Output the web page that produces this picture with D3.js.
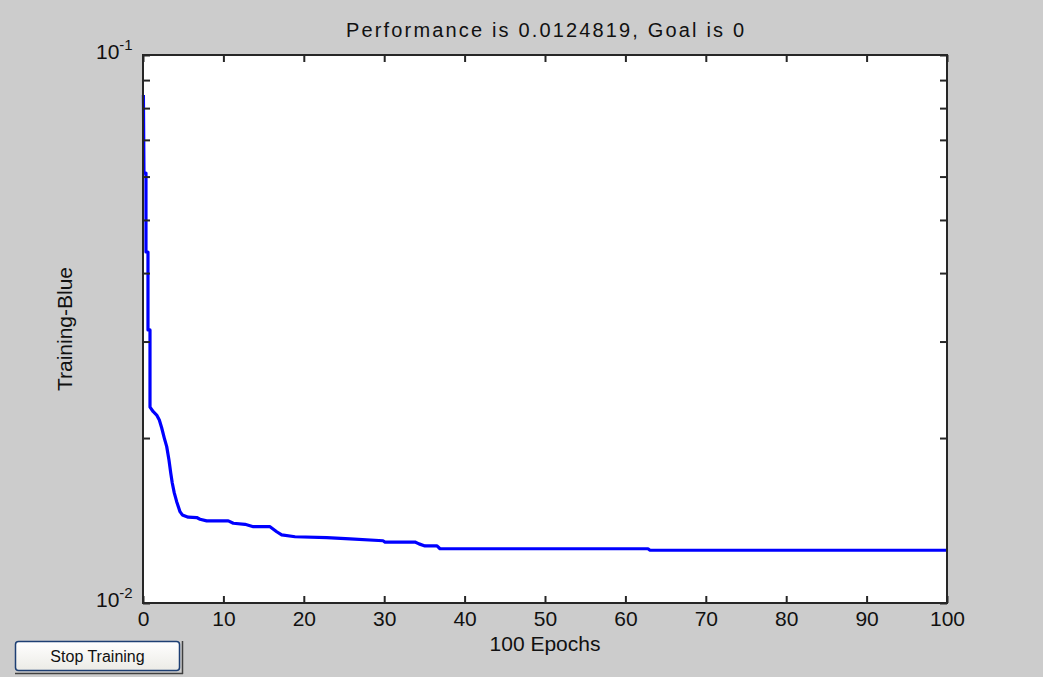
<!DOCTYPE html>
<html>
<head>
<meta charset="utf-8">
<script src="https://cdn.jsdelivr.net/npm/d3@7"></script>
<style>
  html, body { margin: 0; padding: 0; background: #cccccc; }
  svg { display: block; }
  text { font-family: "Liberation Sans", Arial, Helvetica, sans-serif; fill: #111; }
</style>
</head>
<body>
<svg id="chart" width="1043" height="677"></svg>
<script>
// Training performance per epoch (mean squared error)
const epochs = [0.05, 0.12, 0.37, 0.37, 0.62, 0.62, 0.87, 0.87, 1.28, 1.70, 2.03, 2.33, 2.65, 2.95, 3.23, 3.45, 3.64, 3.89, 4.19, 4.60, 4.89, 5.63, 6.68, 7.09, 7.92, 10.61, 11.23, 12.69, 13.72, 15.80, 16.63, 17.25, 18.91, 22.85, 25.75, 29.85, 30.10, 33.83, 34.33, 35.07, 36.57, 36.94, 62.81, 63.06, 100];
const performance = [0.0845, 0.0609, 0.0609, 0.0437, 0.0437, 0.0315, 0.0315, 0.02278, 0.02234, 0.02203, 0.02157, 0.02086, 0.02000, 0.01929, 0.01823, 0.01727, 0.01656, 0.01588, 0.01531, 0.01468, 0.01448, 0.01434, 0.01432, 0.01422, 0.01412, 0.01412, 0.01398, 0.01392, 0.01378, 0.01378, 0.01349, 0.01331, 0.01321, 0.01316, 0.01309, 0.01299, 0.01292, 0.01292, 0.01282, 0.01271, 0.01271, 0.01256, 0.01256, 0.0124819, 0.0124819];

const xTicks = [0, 10, 20, 30, 40, 50, 60, 70, 80, 90, 100];
const yTicks = [0.01, 0.02, 0.03, 0.04, 0.05, 0.06, 0.07, 0.08, 0.09, 0.1];
const yLabelTicks = [0.01, 0.1];
const yLabelExponents = ["-2", "-1"];

const titleText = "Performance is 0.0124819, Goal is 0";
const xLabelText = "100 Epochs";
const yLabelText = "Training-Blue";
const buttonText = "Stop Training";

const svg = d3.select("#chart");
const plot = { left: 143, right: 947, top: 55, bottom: 603 };
const axisColor = "#262626";
const tickLen = 7;

const x = d3.scaleLinear().domain([0, 100]).range([plot.left, plot.right]);
const y = d3.scaleLog().domain([0.01, 0.1]).range([plot.bottom, plot.top]);

// plotting area
svg.append("rect")
  .attr("x", plot.left).attr("y", plot.top)
  .attr("width", plot.right - plot.left).attr("height", plot.bottom - plot.top)
  .attr("fill", "#ffffff");

// performance curve
const line = d3.line()
  .x((d, i) => x(epochs[i]))
  .y(d => y(d));

svg.append("path")
  .datum(performance)
  .attr("d", line)
  .attr("fill", "none")
  .attr("stroke", "#0000ff")
  .attr("stroke-width", 3.2)
  .attr("stroke-linejoin", "round");

function styleAxis(g) {
  g.select(".domain").remove();
  g.selectAll(".tick line").attr("stroke", axisColor).attr("stroke-width", 2);
  g.selectAll(".tick text")
    .attr("font-size", 21)
    .attr("fill", "#111")
    .attr("font-family", "'Liberation Sans', Arial, sans-serif");
}

// bottom axis with labels, ticks pointing inward
svg.append("g")
  .attr("transform", `translate(0,${plot.bottom})`)
  .call(d3.axisBottom(x).tickValues(xTicks).tickSizeInner(-tickLen).tickSizeOuter(0).tickPadding(8).tickFormat(d3.format("d")))
  .call(styleAxis);

// top axis, ticks only
svg.append("g")
  .attr("transform", `translate(0,${plot.top})`)
  .call(d3.axisTop(x).tickValues(xTicks).tickSizeInner(-tickLen).tickSizeOuter(0).tickFormat(""))
  .call(styleAxis);

// left and right axes, ticks only
svg.append("g")
  .attr("transform", `translate(${plot.left},0)`)
  .call(d3.axisLeft(y).tickValues(yTicks).tickSizeInner(-tickLen).tickSizeOuter(0).tickFormat(""))
  .call(styleAxis);

svg.append("g")
  .attr("transform", `translate(${plot.right},0)`)
  .call(d3.axisRight(y).tickValues(yTicks).tickSizeInner(-tickLen).tickSizeOuter(0).tickFormat(""))
  .call(styleAxis);

// decade labels with superscript exponents
const yLab = svg.append("g").selectAll("text")
  .data(yLabelTicks)
  .join("text")
  .attr("x", plot.left - 47)
  .attr("y", d => y(d) + 4)
  .attr("text-anchor", "start")
  .attr("font-size", 21);
yLab.append("tspan").text("10");
yLab.append("tspan")
  .attr("dy", -9)
  .attr("font-size", 15)
  .text((d, i) => yLabelExponents[i]);

// frame
svg.append("rect")
  .attr("x", plot.left).attr("y", plot.top)
  .attr("width", plot.right - plot.left).attr("height", plot.bottom - plot.top)
  .attr("fill", "none")
  .attr("stroke", axisColor)
  .attr("stroke-width", 2);

// title and axis labels
svg.append("text")
  .attr("x", (plot.left + plot.right) / 2).attr("y", 37)
  .attr("text-anchor", "middle")
  .attr("font-size", 20)
  .attr("textLength", 398)
  .attr("lengthAdjust", "spacing")
  .text(titleText);

svg.append("text")
  .attr("x", (plot.left + plot.right) / 2).attr("y", 651)
  .attr("text-anchor", "middle")
  .attr("font-size", 21)
  .text(xLabelText);

svg.append("text")
  .attr("transform", `translate(72,${(plot.top + plot.bottom) / 2}) rotate(-90)`)
  .attr("text-anchor", "middle")
  .attr("font-size", 21)
  .text(yLabelText);

// stop button
const btn = svg.append("g");
btn.append("path")
  .attr("d", "M15,673.5 H183 M182.5,641 V674")
  .attr("stroke", "#404040").attr("stroke-width", 1.5).attr("fill", "none");
const grad = svg.append("defs").append("linearGradient")
  .attr("id", "btnFill").attr("x1", 0).attr("y1", 0).attr("x2", 0).attr("y2", 1);
grad.append("stop").attr("offset", "0%").attr("stop-color", "#ffffff");
grad.append("stop").attr("offset", "100%").attr("stop-color", "#ecebe6");
btn.append("rect")
  .attr("x", 15.5).attr("y", 641.5).attr("width", 164).attr("height", 29)
  .attr("rx", 3)
  .attr("fill", "url(#btnFill)")
  .attr("stroke", "#1d3f73").attr("stroke-width", 1.5);
btn.append("text")
  .attr("x", 97.5).attr("y", 662)
  .attr("text-anchor", "middle")
  .attr("font-size", 16)
  .attr("font-family", "'DejaVu Sans', Verdana, sans-serif")
  .text(buttonText);
</script>
</body>
</html>
